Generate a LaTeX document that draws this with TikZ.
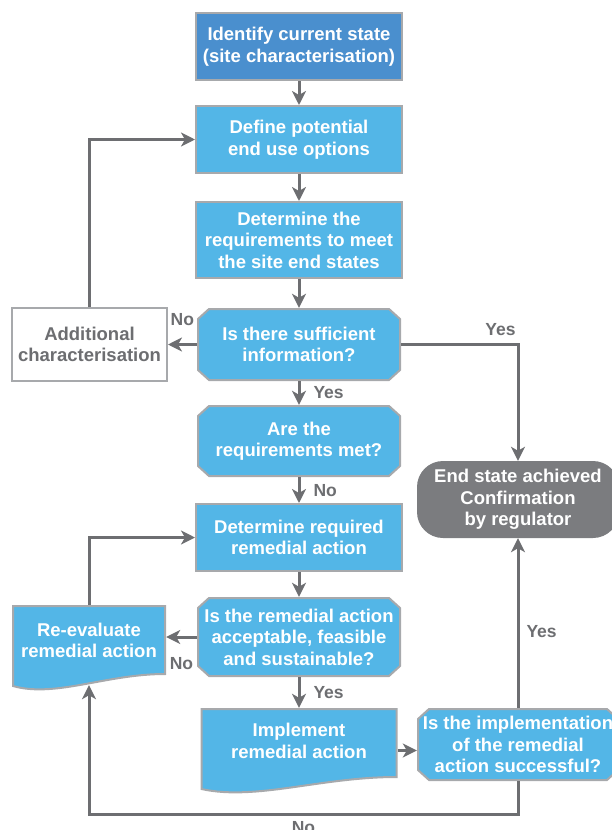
\documentclass[tikz,border=0pt]{standalone}
\usepackage{fontspec}
\setmainfont{Liberation Sans}
\usepackage{tikz}
\usetikzlibrary{arrows.meta, positioning, calc}
\definecolor{darkblue}{HTML}{4A8FCE}
\definecolor{lightblue}{HTML}{53B6E7}
\definecolor{edgegray}{HTML}{A7A9AC}
\definecolor{linegray}{HTML}{6D6E71}
\definecolor{endgray}{HTML}{7B7C7F}
\newcommand{\flowfont}{\bfseries\fontsize{18.5}{21.5}\selectfont}
\newcommand{\lblfont}{\bfseries\fontsize{17.5}{20}\selectfont}
\tikzstyle{block} = [rectangle, minimum width=206pt, minimum height=67pt, align=center, inner sep=2pt, draw=edgegray, line width=2pt, fill=lightblue, text=white, font=\flowfont]
\tikzstyle{decision} = [rectangle, minimum width=204pt, minimum height=73pt, align=center, inner sep=2pt, fill=white, text=white, font=\flowfont,
  path picture={
    \path[fill=lightblue, draw=edgegray, line width=2pt]
      ([xshift=12pt,yshift=-1pt]path picture bounding box.north west)
      -- ([xshift=-12pt,yshift=-1pt]path picture bounding box.north east)
      -- ([xshift=-1pt,yshift=-11pt]path picture bounding box.north east)
      -- ([xshift=-1pt,yshift=11pt]path picture bounding box.south east)
      -- ([xshift=-12pt,yshift=1pt]path picture bounding box.south east)
      -- ([xshift=12pt,yshift=1pt]path picture bounding box.south west)
      -- ([xshift=1pt,yshift=11pt]path picture bounding box.south west)
      -- ([xshift=1pt,yshift=-11pt]path picture bounding box.north west) -- cycle;
  }]
\tikzstyle{docbox} = [rectangle, minimum height=85pt, align=center, inner sep=2pt, fill=white, text=white, font=\flowfont,
  path picture={
    \path[fill=lightblue, draw=edgegray, line width=2pt]
      ([shift={(1pt,4pt)}]path picture bounding box.south west)
      -- ([shift={(1pt,-1pt)}]path picture bounding box.north west)
      -- ([shift={(-1pt,-1pt)}]path picture bounding box.north east)
      -- ([shift={(-1pt,16pt)}]path picture bounding box.south east)
      .. controls ($(path picture bounding box.south west)!.61!(path picture bounding box.south east)+(0pt,16pt)$)
      and ($(path picture bounding box.south west)!.28!(path picture bounding box.south east)+(0pt,-8pt)$)
      .. ([shift={(1pt,4pt)}]path picture bounding box.south west) -- cycle;
  }]
\tikzstyle{endnode} = [rectangle, rounded corners=26pt, minimum width=202pt, minimum height=77pt, align=center, inner sep=2pt, fill=endgray, text=white, font=\flowfont]
\tikzstyle{lbl} = [inner sep=2pt, text=linegray, font=\lblfont]
\tikzstyle{arrow} = [line width=3pt, draw=linegray, -{Stealth[length=14pt, width=14pt, inset=4pt]}]

\begin{document}
\begin{tikzpicture}[x=1pt, y=1pt]
    \useasboundingbox (0,0) rectangle (611,-830);

    \node[block, fill=darkblue] (ident) at (299,-46.5) {Identify current state\\(site characterisation)};
    \node[block] (enduse) at (299,-139.5) {Define potential\\end use options};
    \node[block, minimum height=76pt] (reqs) at (299,-240) {Determine the\\requirements to meet\\the site end states};
    \node[decision] (suffinfo) at (299,-344.5) {Is there sufficient\\information?};
    \node[decision, minimum height=72pt] (reqmet) at (299,-441) {Are the\\requirements met?};
    \node[block] (remreq) at (299,-537.5) {Determine required\\remedial action};
    \node[decision, minimum height=80pt] (remok) at (299,-637) {Is the remedial action\\acceptable, feasible\\and sustainable?};
    \node[docbox, minimum width=197pt, text depth=19pt] (implement) at (299,-750.5) {Implement\\remedial action};
    \node[decision, minimum width=202pt] (implok) at (518,-744.5) {Is the implementation\\of the remedial\\action successful?};
    \node[endnode] (endstate) at (518,-499.5) {End state achieved\\Confirmation\\by regulator};
    \node[block, fill=white, text=linegray, minimum width=155pt, minimum height=73pt] (addchar) at (89.5,-344.5) {Additional\\characterisation};
    \node[docbox, minimum width=154pt, text depth=14pt] (reeval) at (89,-647.5) {Re-evaluate\\remedial action};

    \draw[arrow] (ident) -- (enduse);
    \draw[arrow] (enduse) -- (reqs);
    \draw[arrow] (reqs) -- (suffinfo);
    \draw[arrow] (suffinfo) -- node[lbl, right=11pt] {Yes} (reqmet);
    \draw[arrow] (reqmet) -- node[lbl, right=11pt] {No} (remreq);
    \draw[arrow] (remreq) -- (remok);
    \draw[arrow] (remok) -- node[lbl, right=11pt] {Yes} (implement);
    \draw[arrow] (suffinfo) -- node[lbl, above=15pt] {No} (addchar);
    \draw[arrow] (addchar.north) |- (enduse.west);
    \draw[arrow] (remok.west) -- node[lbl, below=17pt] {No} (remok.west -| reeval.east);
    \draw[arrow] (reeval.north) |- (remreq.west);
    \draw[arrow] (suffinfo.east) -| node[lbl, pos=0.5, anchor=south east, xshift=1pt, yshift=5pt] {Yes} (endstate.north);
    \draw[arrow] (implement) -- (implement -| implok.west);
    \draw[arrow] (implok) -- node[lbl, pos=0.45, right=5pt] {Yes} (endstate);
    \draw[arrow] (implok.south) -- ++(0,-33) -| node[lbl, pos=0.25, below=4pt] {No} ([yshift=5pt]reeval.south);
\end{tikzpicture}
\end{document}
